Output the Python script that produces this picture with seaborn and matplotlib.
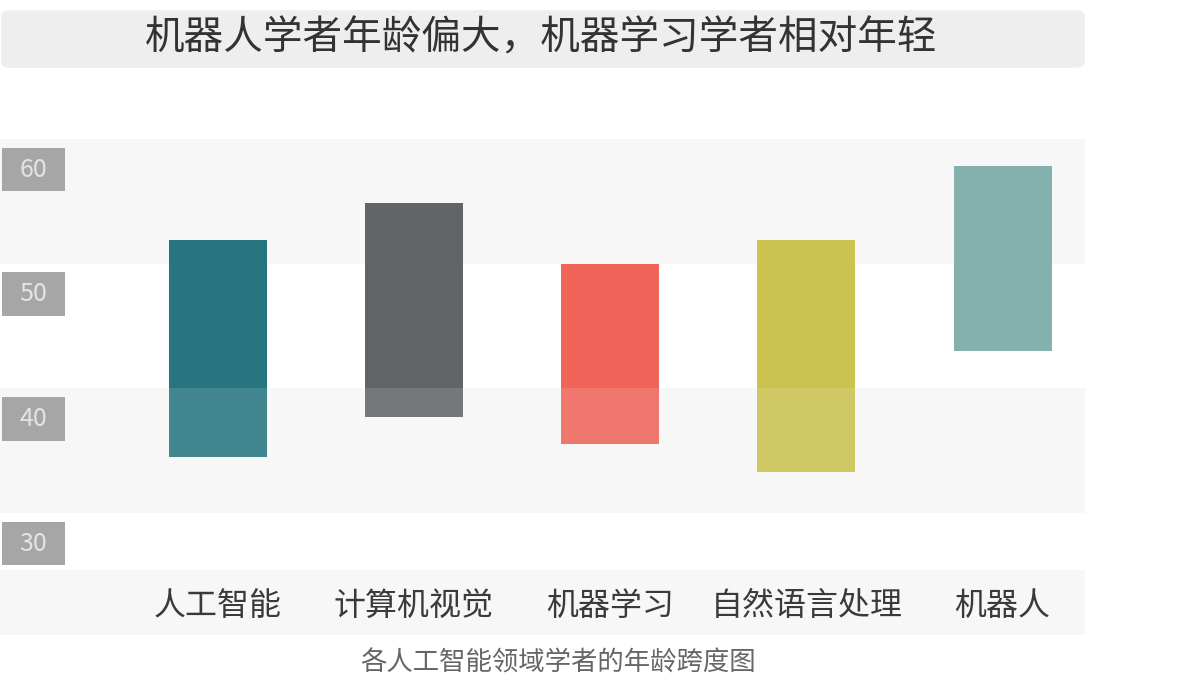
import numpy as np
import pandas as pd
import seaborn as sns
import matplotlib.pyplot as plt
from matplotlib.patches import Rectangle, FancyBboxPatch
import matplotlib.transforms as mtransforms

sns.set_theme(style="white")
plt.rcParams['font.family'] = ['Noto Sans CJK SC', 'DejaVu Sans']

# data
fields = ['人工智能', '计算机视觉', '机器学习', '自然语言处理', '机器人']
age_low = [34.5, 37.7, 35.5, 33.3, 43.0]
age_high = [51.9, 54.9, 50.0, 51.9, 57.8]
bar_colors = ['#27767f', '#636466', '#f0645a', '#cbc24f', '#84b1ae']
yticks = [30, 40, 50, 60]
title = '机器人学者年龄偏大，机器学习学者相对年轻'
subtitle = '各人工智能领域学者的年龄跨度图'

df = pd.DataFrame({'field': fields, 'low': age_low, 'high': age_high})
df['span'] = df['high'] - df['low']

W, H = 1200, 695
fig = plt.figure(figsize=(W / 100, H / 100), dpi=100)
ax = fig.add_axes([0, 1 - 513 / H, 1085 / W, (513 - 139) / H])

# background bands
ax.axhspan(50, 60, color='#f7f7f7', zorder=0, lw=0)
ax.axhspan(30, 40, color='#f7f7f7', zorder=0, lw=0)

sns.barplot(data=df, x='field', y='span', bottom=df['low'].values, order=fields,
            width=0.5, ax=ax, zorder=2, linewidth=0, color=bar_colors[0], saturation=1)
for p, c in zip(ax.containers[0], bar_colors):
    p.set_facecolor(c)
    p.set_edgecolor(c)

# lower band washes over bars
ax.axhspan(30, 40, color='#f7f7f7', alpha=0.13, zorder=3, lw=0)

ax.set_xlim(-1.11, 4.42)
ax.set_ylim(30, 60)
ax.set_xticks([])
ax.set_yticks([])
ax.set_xlabel('')
ax.set_ylabel('')
for s in ax.spines.values():
    s.set_visible(False)

# y tick labels in grey boxes
tr = mtransforms.blended_transform_factory(ax.transAxes, ax.transData)
bx0, bw = 2 / 1085, 63 / 1085
for t in yticks:
    ax.add_patch(Rectangle((bx0, t - 4.2), bw, 3.5, transform=tr, color='#a6a6a6',
                           clip_on=False, zorder=4, lw=0))
    ax.text(bx0 + bw / 2, t - 2.45, str(t), transform=tr, ha='center', va='center',
            fontsize=18, color='#e4e4e4', zorder=5, clip_on=False)

# category band and labels
fig.patches.append(Rectangle((0, 1 - 635 / H), 1085 / W, 65 / H, transform=fig.transFigure,
                             color='#f7f7f7', lw=0, zorder=-1))
trx = mtransforms.blended_transform_factory(ax.transData, ax.transAxes)
for i, f in enumerate(fields):
    ax.text(i, -(606 - 513) / 374, f, transform=trx, ha='center', va='center',
            fontsize=23, color='#3a3a3a', clip_on=False)

# title box
fig.patches.append(FancyBboxPatch((6 / W, 1 - 65 / H), 1074 / W, 52 / H,
                                  boxstyle='round,pad=0.004,rounding_size=0.008',
                                  transform=fig.transFigure, color='#eeeeee', lw=0,
                                  zorder=-1))
fig.text(541 / W, 1 - 38 / H, title, ha='center', va='center', fontsize=28.5,
         color='#333333')
fig.text(558 / W, 1 - 663 / H, subtitle, ha='center', va='center', fontsize=19,
         color='#666666')

fig.savefig('out.png', dpi=100)
